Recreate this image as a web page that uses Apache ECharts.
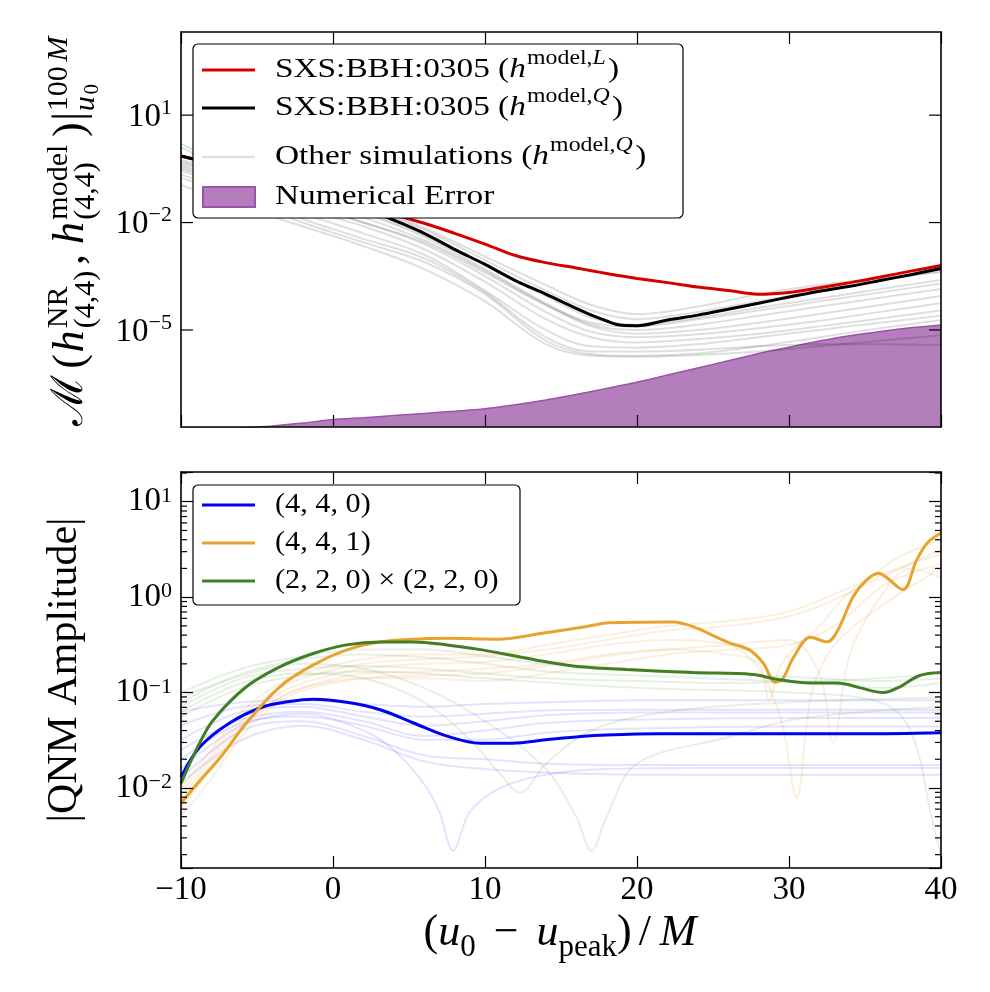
<!DOCTYPE html>
<html><head><meta charset="utf-8">
<script src="https://cdn.jsdelivr.net/npm/echarts@6/dist/echarts.min.js"></script>
<style>html,body{margin:0;padding:0;background:#fff}#c{width:990px;height:992px}</style>
</head><body><div id="c"></div>
<script>
const SERIF = '"Liberation Serif", "DejaVu Serif", serif';

// ---------- axis ticks / labels ----------
const xTickValues = [-10, 0, 10, 20, 30, 40];
const topMajorTicks = [10, 0.01, 1e-5];
const topTickExps = ['1', '\u22122', '\u22125'];
const bottomYLabelExps = [1, 0, -1, -2];
const bottomMinorTicks = [0.002, 0.003, 0.004, 0.005, 0.006, 0.007, 0.008, 0.009,
  0.02, 0.03, 0.04, 0.05, 0.06, 0.07, 0.08, 0.09,
  0.2, 0.3, 0.4, 0.5, 0.6, 0.7, 0.8, 0.9,
  2, 3, 4, 5, 6, 7, 8, 9, 20];

// ---------- top panel data ----------
const topX = [-10, -8, -6, -4, -2, 0, 2, 4, 6, 8, 10, 12, 14, 16, 17, 18, 19, 20, 22, 24, 26, 28, 30, 32, 34, 36, 38, 40];
const redL = [0.724, 0.437, 0.251, 0.141, 0.0794, 0.0468, 0.0269, 0.0166, 0.00955, 0.00501, 0.00251, 0.0012, 7.6e-4, 5.4e-4, 4.5e-4, 3.8e-4, 3.2e-4, 2.75e-4, 2.1e-4, 1.58e-4, 1.26e-4, 1.0e-4, 1.12e-4, 1.51e-4, 2.1e-4, 3.0e-4, 4.4e-4, 6.3e-4];
const blackQ = [0.72, 0.44, 0.25, 0.14, 0.079, 0.045, 0.024, 0.0117, 0.005, 1.78e-3, 6.8e-4, 2.4e-4, 1.0e-4, 4.0e-5, 2.6e-5, 1.78e-5, 1.35e-5, 1.32e-5, 1.9e-5, 2.6e-5, 3.8e-5, 5.6e-5, 8.3e-5, 1.2e-4, 1.66e-4, 2.4e-4, 3.5e-4, 5.2e-4];

const grayX = [-10, -6, -2, 2, 6, 10, 14, 17, 20, 24, 28, 32, 36, 40];
const gray1 = [1.26, 0.22, 0.071, 0.025, 6.3e-3, 8.9e-4, 1.26e-4, 3.5e-5, 2.0e-5, 3.2e-5, 6.3e-5, 1.26e-4, 2.4e-4, 4.5e-4];
const gray2 = [0.56, 0.2, 0.063, 0.02, 4.5e-3, 6.3e-4, 8.9e-5, 2.2e-5, 1.4e-5, 2.2e-5, 4.2e-5, 7.6e-5, 1.4e-4, 2.5e-4];
const gray3 = [0.5, 0.18, 0.056, 0.018, 4.0e-3, 5.0e-4, 5.6e-5, 1.4e-5, 1.0e-5, 1.4e-5, 2.5e-5, 4.5e-5, 7.9e-5, 1.4e-4];
const gray4 = [0.45, 0.16, 0.045, 0.014, 3.2e-3, 4.5e-4, 5.0e-5, 1.26e-5, 7.9e-6, 1.0e-5, 1.6e-5, 2.8e-5, 5.0e-5, 8.9e-5];
const gray5 = [0.4, 0.126, 0.032, 0.01, 2.5e-3, 3.2e-4, 3.2e-5, 8.9e-6, 6.3e-6, 7.6e-6, 1.12e-5, 1.8e-5, 3.2e-5, 5.6e-5];
const gray6 = [0.355, 0.1, 0.025, 7.9e-3, 1.8e-3, 2.2e-4, 2.0e-5, 6.3e-6, 4.5e-6, 5.6e-6, 7.9e-6, 1.26e-5, 2.1e-5, 3.5e-5];
const gray7 = [0.28, 0.079, 0.018, 5.0e-3, 1.26e-3, 1.26e-4, 1.0e-5, 3.5e-6, 3.2e-6, 4.0e-6, 6.3e-6, 1.0e-5, 1.6e-5, 2.5e-5];
const gray8 = [0.22, 0.056, 0.0126, 3.5e-3, 1.0e-3, 1.12e-4, 6.3e-6, 2.5e-6, 2.5e-6, 2.8e-6, 3.5e-6, 4.0e-6, 4.0e-6, 3.8e-6];
const gray9 = [0.18, 0.045, 0.01, 2.8e-3, 7.9e-4, 1.0e-4, 5.0e-6, 2.1e-6, 1.9e-6, 2.2e-6, 3.5e-6, 6.3e-6, 1.12e-5, 1.9e-5];
const gray10 = [0.316, 0.1, 0.032, 0.01, 2.8e-3, 4.0e-4, 5.0e-5, 1.6e-5, 1.26e-5, 2.0e-5, 3.5e-5, 6.3e-5, 1.12e-4, 2.0e-4];
const gray11 = [1.6, 0.25, 0.079, 0.028, 7.1e-3, 1.12e-3, 1.8e-4, 5.0e-5, 2.8e-5, 4.5e-5, 1.0e-4, 1.8e-4, 2.8e-4, 4.0e-4];
const gray12 = [0.112, 0.028, 7.9e-3, 2.2e-3, 5.0e-4, 6.3e-5, 4.0e-6, 1.9e-6, 1.8e-6, 2.0e-6, 2.5e-6, 3.5e-6, 5.0e-6, 7.1e-6];

const errX = [-10, -6, -4, -2, 0, 2, 4, 6, 8, 10, 12, 14, 16, 18, 20, 22, 24, 26, 28, 30, 32, 34, 36, 38, 40];
const errVals = [1.12e-8, 1.78e-8, 2.09e-8, 2.51e-8, 3.16e-8, 3.55e-8, 4.07e-8, 4.68e-8, 5.37e-8, 6.31e-8, 8.13e-8, 1.1e-7, 1.58e-7, 2.34e-7, 3.47e-7, 5.5e-7, 8.7e-7, 1.38e-6, 2.19e-6, 3.31e-6, 4.9e-6, 6.9e-6, 9.1e-6, 1.15e-5, 1.38e-5];

// ---------- bottom panel data ----------
const mode440 = [[-10, 0.013], [-8.75, 0.027], [-6.8, 0.048], [-4.6, 0.071], [-3, 0.08], [-1.3, 0.085], [0.9, 0.079], [3.1, 0.066], [5.3, 0.048], [7.5, 0.035], [9.7, 0.0295], [11.8, 0.0295], [14, 0.032], [16.3, 0.0347], [18, 0.036], [21.5, 0.037], [28, 0.037], [34.7, 0.037], [40, 0.038]];
const mode441 = [[-10, 0.0069], [-8.75, 0.012], [-7.4, 0.021], [-5.7, 0.048], [-3.5, 0.115], [-1.3, 0.195], [0.9, 0.28], [3.1, 0.34], [5.3, 0.363], [7.5, 0.37], [10.8, 0.363], [14.1, 0.427], [16.3, 0.48], [18.2, 0.54], [22.4, 0.55], [23.7, 0.49], [25.9, 0.34], [27.4, 0.28], [28.3, 0.204], [29.1, 0.129], [29.6, 0.141], [30.3, 0.234], [31.4, 0.38], [32.5, 0.34], [33.2, 0.447], [34.2, 1.0], [35.1, 1.51], [35.9, 1.78], [36.4, 1.62], [37.5, 1.2], [38.4, 2.45], [39.1, 3.7], [40, 4.7]];
const mode220sq = [[-10, 0.0112], [-8.9, 0.027], [-7.9, 0.051], [-5.7, 0.115], [-3.5, 0.186], [-1.3, 0.257], [0.9, 0.316], [3.1, 0.339], [5.3, 0.339], [7.5, 0.316], [9.7, 0.282], [11.8, 0.245], [14.1, 0.209], [16.3, 0.186], [19.3, 0.174], [23.7, 0.162], [27.6, 0.155], [29.2, 0.138], [31.4, 0.126], [33.2, 0.126], [34.7, 0.112], [36.2, 0.1], [37.3, 0.115], [38.6, 0.151], [40, 0.162]];

const faintBlueX = [-10, -6, -2, 2, 6, 10, 14, 20, 30, 40];
const faintBlue1 = [0.063, 0.079, 0.083, 0.076, 0.071, 0.076, 0.079, 0.083, 0.083, 0.083];
const faintBlue2 = [0.045, 0.071, 0.076, 0.063, 0.056, 0.06, 0.065, 0.066, 0.066, 0.066];
const faintBlue3 = [0.032, 0.063, 0.071, 0.056, 0.045, 0.05, 0.058, 0.062, 0.062, 0.062];
const faintBlue4 = [0.025, 0.052, 0.063, 0.05, 0.035, 0.04, 0.048, 0.052, 0.054, 0.054];
const faintBlue5 = [0.02, 0.048, 0.056, 0.045, 0.032, 0.032, 0.038, 0.042, 0.044, 0.044];
const faintBlue7 = [0.0126, 0.04, 0.05, 0.035, 0.022, 0.02, 0.018, 0.0174, 0.0174, 0.0174];
const faintBlue8 = [0.0112, 0.032, 0.045, 0.032, 0.019, 0.0158, 0.0145, 0.0138, 0.0138, 0.0138];
const faintBlueDip = [[-10, 0.016], [-6, 0.045], [-2, 0.06], [2, 0.04], [4, 0.025], [6, 0.011], [7, 0.0056], [7.9, 0.0022], [9, 0.0056], [11, 0.01], [14, 0.0138], [18, 0.0158], [24, 0.0162], [30, 0.0162], [40, 0.0162]];

const faintGreenX = [-10, -6, -2, 2, 6, 10, 14, 20, 26, 32, 36, 40];
const faintGreen1 = [0.1, 0.178, 0.24, 0.282, 0.282, 0.24, 0.2, 0.178, 0.158, 0.141, 0.132, 0.141];
const faintGreen2 = [0.079, 0.158, 0.224, 0.251, 0.234, 0.2, 0.166, 0.151, 0.138, 0.126, 0.112, 0.126];
const faintGreen3 = [0.071, 0.141, 0.178, 0.19, 0.178, 0.158, 0.141, 0.132, 0.126, 0.132, 0.141, 0.158];
const faintGreenDipA = [[-10, 0.063], [-6, 0.126], [-2, 0.158], [2, 0.141], [6, 0.079], [9, 0.032], [11, 0.014], [12.3, 0.0089], [14, 0.0178], [17, 0.04], [22, 0.063], [30, 0.079], [40, 0.089]];
const faintGreenDipB = [[-10, 0.089], [-6, 0.151], [-2, 0.2], [2, 0.178], [6, 0.112], [10, 0.05], [14, 0.0158], [16, 0.005], [17, 0.0022], [18, 0.005], [20, 0.018], [26, 0.034], [30, 0.051], [35, 0.063], [40, 0.071]];
const faintGreenDrop = [[-10, 0.056], [-6, 0.112], [-2, 0.151], [2, 0.166], [6, 0.158], [10, 0.141], [20, 0.112], [30, 0.1], [36, 0.079], [38, 0.04], [39.5, 0.004], [40, 0.002]];

const faintOrange1 = [[-10, 0.01], [-8, 0.025], [-6, 0.063], [-4, 0.112], [-2, 0.158], [2, 0.224], [6, 0.251], [10, 0.251], [14, 0.316], [18, 0.398], [22, 0.5], [26, 0.562], [30, 0.708], [34, 1.26], [38, 2.24], [40, 2.82]];
const faintOrange2 = [[-10, 0.0079], [-8, 0.02], [-6, 0.05], [-4, 0.089], [-2, 0.126], [2, 0.178], [6, 0.2], [10, 0.209], [14, 0.251], [18, 0.316], [22, 0.355], [26, 0.316], [28, 0.178], [29.5, 0.05], [30.5, 0.0079], [31.5, 0.1], [33, 0.316], [36, 0.794], [40, 2.0]];
const faintOrange3 = [[-10, 0.0063], [-8, 0.0158], [-6, 0.04], [-4, 0.079], [-2, 0.112], [2, 0.158], [6, 0.166], [10, 0.178], [14, 0.2], [18, 0.251], [22, 0.282], [26, 0.251], [28, 0.2], [28.7, 0.083], [29.5, 0.2], [32, 0.5], [34, 1.12], [36, 1.58], [38, 2.24], [40, 3.16]];
const faintOrange4 = [[-10, 0.005], [-8, 0.0126], [-6, 0.035], [-4, 0.071], [-2, 0.105], [2, 0.141], [6, 0.151], [10, 0.158], [14, 0.19], [18, 0.24], [22, 0.282], [26, 0.316], [30, 0.355], [32, 0.158], [32.9, 0.03], [34, 0.251], [36, 1.0], [38, 2.0], [40, 1.58]];
const faintOrange5 = [[-10, 0.0089], [-8, 0.022], [-6, 0.056], [-4, 0.1], [-2, 0.141], [2, 0.2], [6, 0.224], [10, 0.24], [14, 0.282], [18, 0.355], [22, 0.447], [26, 0.5], [30, 0.631], [34, 1.12], [37, 2.5], [40, 4.0]];
const faintOrange6 = [[-10, 0.0071], [-8, 0.0178], [-6, 0.045], [-4, 0.079], [-2, 0.112], [2, 0.141], [6, 0.141], [10, 0.132], [14, 0.158], [18, 0.2], [22, 0.251], [26, 0.282], [30, 0.316], [33, 0.5], [36, 1.26], [38, 1.78], [40, 2.24]];

// ---------- helpers ----------
function zip(xs, ys) { return xs.map((x, i) => [x, ys[i]]); }
const mctx = document.createElement('canvas').getContext('2d');
function fnt(p) { return (p.it ? 'italic ' : '') + p.size + 'px ' + (p.fam || SERIF); }
function textW(p) { mctx.font = fnt(p); return mctx.measureText(p.t).width; }

function logLabel(allowed) {
  return function (v) {
    const l = Math.log10(v), e = Math.round(l);
    if (Math.abs(l - e) > 1e-6 || allowed.indexOf(e) < 0) return '';
    return '{b|10}{s|' + (e < 0 ? '\u2212' + (-e) : String(e)) + '}';
  };
}
const TICKF = 33, TICKS = 22;
const yLabelRich = {
  b: { fontFamily: SERIF, fontSize: TICKF, color: '#000' },
  s: { fontFamily: SERIF, fontSize: TICKS, color: '#000', verticalAlign: 'top' }
};

function tickRenderer(len, labels) {
  return function (params, api) {
    const cs = params.coordSys;
    const y = api.coord([api.value(0), api.value(1)])[1];
    const x0 = cs.x, x1 = cs.x + cs.width;
    const ch = [
      { type: 'line', shape: { x1: x0, y1: y, x2: x0 + len, y2: y }, style: { stroke: '#000', lineWidth: 1.2 } },
      { type: 'line', shape: { x1: x1 - len, y1: y, x2: x1, y2: y }, style: { stroke: '#000', lineWidth: 1.2 } }
    ];
    if (labels) {
      const sup = labels[params.dataIndex];
      const sw = textW({ t: sup, size: TICKS });
      const right = x0 - 9;
      ch.push({ type: 'text', x: right - sw, y: y + 2, style: { text: '10', font: TICKF + 'px ' + SERIF, fill: '#000', align: 'right', verticalAlign: 'middle' } });
      ch.push({ type: 'text', x: right - sw, y: y - 7, style: { text: sup, font: TICKS + 'px ' + SERIF, fill: '#000', align: 'left', verticalAlign: 'middle' } });
    }
    return { type: 'group', children: ch };
  };
}

// math-like text layout (titles and legend texts)
function layoutMath(items) {
  const placed = []; let x = 0;
  items.forEach(it => {
    if (it.gap != null) { x += it.gap; return; }
    const rows = it.stack ? it.stack : [[it]];
    let w = 0;
    rows.forEach(row => { let rx = x; row.forEach(p => { placed.push({ p, x: rx }); rx += textW(p); }); w = Math.max(w, rx - x); });
    x += w;
  });
  return { placed, width: x };
}
function mathGraphic(items, cx, cy, rotation, targetLen, alignLeft, sx) {
  const L = layoutMath(items);
  const k = targetLen ? targetLen / L.width : 1;
  const half = alignLeft ? 0 : L.width * k / 2;
  return { type: 'group', x: cx, y: cy, rotation: rotation, scaleX: sx || 1, silent: true,
    children: L.placed.map(({ p, x }) => ({
      type: 'text', x: x * k - half, y: -(p.dy || 0) - 0.34 * p.size, z: 101,
      style: { text: p.t, font: fnt(p), fill: '#000', align: 'left', verticalAlign: 'middle' }
    })) };
}

// ---------- axis titles ----------
const S = 44, s = 30, UP = 17, DN = -10;
const topYTitle = mathGraphic([
  { t: '\u2133', size: S, fam: '"DejaVu Serif", serif' }, { gap: 1 },
  { t: '(', size: S }, { t: 'h', size: S, it: true },
  { stack: [[{ t: 'NR', size: s, dy: UP }], [{ t: '(4,4)', size: s, dy: DN }]] },
  { t: ',', size: S }, { gap: 8 },
  { t: 'h', size: S, it: true },
  { stack: [[{ t: 'model', size: s, dy: UP }], [{ t: '(4,4)', size: s, dy: DN }]] },
  { t: ')', size: S }, { t: '|', size: S },
  { stack: [[{ t: '100', size: s, dy: UP }, { t: 'M', size: s, it: true, dy: UP }],
            [{ t: 'u', size: s, it: true, dy: DN }, { t: '0', size: 21, dy: DN - 4 }]] }
], 86, 230, Math.PI / 2, 392);
const xTitle = mathGraphic([
  { t: '(', size: 44 }, { t: 'u', size: 44, it: true }, { t: '0', size: 31, dy: DN },
  { gap: 18 }, { t: '\u2212', size: 44 }, { gap: 18 },
  { t: 'u', size: 44, it: true }, { t: 'peak', size: 31, dy: DN }, { t: ')', size: 44 },
  { gap: 7 }, { t: '/', size: 44 }, { gap: 9 }, { t: 'M', size: 44, it: true }
], 560, 948, 0, null);
const bottomYTitle = mathGraphic([{ t: '|QNM Amplitude|', size: 42 }], 79, 670, Math.PI / 2, null);

// ---------- legends (drawn as graphic boxes) ----------
const NAME_L = 'SXS:BBH:0305 (h^model,L)';
const NAME_Q = 'SXS:BBH:0305 (h^model,Q)';
const NAME_O = 'Other simulations (h^model,Q)';
const NAME_E = 'Numerical Error';
const N440 = '(4, 4, 0)', N441 = '(4, 4, 1)', N220 = '(2, 2, 0) \u00d7 (2, 2, 0)';
const C_RED = '#d40000', C_BLUE = '#0000f0', C_ORANGE = '#e6a330', C_GREEN = '#427f24';
const C_ERR = '#b47ebd', C_ERR_EDGE = '#9c52aa';
const LF = 28, LS = 20, LUP = 14;
function hmodel(prefix, last) {
  return [{ t: prefix, size: LF }, { t: 'h', size: LF, it: true }, { gap: 1 },
    { t: 'model,', size: LS, dy: LUP }, { t: last, size: LS, it: true, dy: LUP }, { gap: 2 }, { t: ')', size: LF }];
}
function legendGraphic(box, items, sx) {
  const ch = [{ type: 'rect', shape: { x: box[0], y: box[1], width: box[2], height: box[3], r: 5 }, z: 100,
    style: { fill: '#fff', stroke: '#000', lineWidth: 1.2 } }];
  items.forEach(it => {
    if (it.rect) {
      ch.push({ type: 'rect', shape: { x: 203, y: it.y - 10, width: 52, height: 20 }, z: 101,
        style: { fill: it.color, stroke: it.edge, lineWidth: 2 } });
    } else {
      ch.push({ type: 'line', shape: { x1: 202, y1: it.y, x2: 255, y2: it.y }, z: 101,
        style: { stroke: it.color, lineWidth: it.w || 3 } });
    }
    ch.push(mathGraphic(it.text, 275, it.y + 0.33 * LF, 0, null, true, sx));
  });
  return { type: 'group', silent: true, children: ch };
}
const topLegend = legendGraphic([193, 44, 490, 174], [
  { y: 70, color: C_RED, text: hmodel('SXS:BBH:0305 (', 'L') },
  { y: 108, color: '#000', text: hmodel('SXS:BBH:0305 (', 'Q') },
  { y: 157, color: 'rgba(0,0,0,0.12)', w: 2.5, text: hmodel('Other simulations (', 'Q') },
  { y: 197, rect: true, color: C_ERR, edge: C_ERR_EDGE, text: [{ t: NAME_E, size: LF }] }
], 1.19);
const bottomLegend = legendGraphic([193, 485, 327, 120], [
  { y: 505, color: C_BLUE, text: [{ t: N440, size: LF }] },
  { y: 543, color: C_ORANGE, text: [{ t: N441, size: LF }] },
  { y: 581, color: C_GREEN, text: [{ t: N220, size: LF }] }
], 1.08);

// ---------- series ----------
const series = [];
function line(name, data, color, width, xi, yi, z, extra) {
  return Object.assign({ name, type: 'line', data, xAxisIndex: xi, yAxisIndex: yi, symbol: 'none', smooth: 0.35,
    color: color, lineStyle: { color, width }, itemStyle: { color }, z, silent: true, animation: false }, extra || {});
}
series.push(line(NAME_E, zip(errX, errVals), C_ERR_EDGE, 1.5, 0, 0, 1,
  { smooth: 0.2, areaStyle: { color: C_ERR, opacity: 1, origin: 'start' }, itemStyle: { color: C_ERR } }));
[gray1, gray2, gray3, gray4, gray5, gray6, gray7, gray8, gray9, gray10, gray11, gray12].forEach(g =>
  series.push(line(NAME_O, zip(grayX, g), 'rgba(0,0,0,0.13)', 2, 0, 0, 2)));
series.push(line(NAME_L, zip(topX, redL), C_RED, 3, 0, 0, 3));
series.push(line(NAME_Q, zip(topX, blackQ), '#000', 3, 0, 0, 4));
series.push({ name: 'top axis ticks', type: 'custom', xAxisIndex: 0, yAxisIndex: 0, clip: false, silent: true, z: 12,
  data: topMajorTicks.map(v => [-10, v]), renderItem: tickRenderer(12, topTickExps) });

[faintBlue1, faintBlue2, faintBlue3, faintBlue4, faintBlue5, faintBlue7, faintBlue8].forEach(b =>
  series.push(line('(4, 4, 0) other simulations', zip(faintBlueX, b), 'rgba(0,0,255,0.11)', 2, 1, 2, 2)));
series.push(line('(4, 4, 0) other simulations', faintBlueDip, 'rgba(0,0,255,0.11)', 2, 1, 2, 2));
[faintGreen1, faintGreen2, faintGreen3].forEach(g =>
  series.push(line('(2, 2, 0) x (2, 2, 0) other simulations', zip(faintGreenX, g), 'rgba(60,130,30,0.12)', 2, 1, 2, 2)));
[faintGreenDipA, faintGreenDipB, faintGreenDrop].forEach(g =>
  series.push(line('(2, 2, 0) x (2, 2, 0) other simulations', g, 'rgba(60,130,30,0.12)', 2, 1, 2, 2)));
[faintOrange1, faintOrange2, faintOrange3, faintOrange4, faintOrange5, faintOrange6].forEach(o =>
  series.push(line('(4, 4, 1) other simulations', o, 'rgba(230,150,40,0.15)', 2, 1, 2, 2)));
series.push(line(N440, mode440, C_BLUE, 3, 1, 2, 5));
series.push(line(N441, mode441, C_ORANGE, 3, 1, 2, 6));
series.push(line(N220, mode220sq, C_GREEN, 3, 1, 2, 7));
series.push({ name: 'bottom minor ticks', type: 'custom', xAxisIndex: 1, yAxisIndex: 2, clip: false, silent: true, z: 12,
  data: bottomMinorTicks.map(v => [-10, v]), renderItem: tickRenderer(6, null) });

// ---------- axes ----------
const AX = { color: '#000', width: 1.6 };
function xAxis(grid, pos, labels) {
  return { type: 'value', gridIndex: grid, position: pos, min: -10, max: 40, interval: 10, z: 10,
    axisLine: { show: true, onZero: false, lineStyle: AX },
    axisTick: { show: true, inside: true, length: 12, lineStyle: { color: '#000', width: 1.2 } },
    splitLine: { show: false },
    axisLabel: labels ? { show: true, margin: 6, color: '#000', fontFamily: SERIF, fontSize: 33,
      formatter: v => (xTickValues.indexOf(v) >= 0 ? (v < 0 ? '\u2212' + (-v) : String(v)) : '') } : { show: false } };
}
function yAxis(grid, pos, min, max, split, labels, ticks) {
  return { type: 'log', logBase: 10, gridIndex: grid, position: pos, min, max, splitNumber: split, z: 10,
    axisLine: { show: true, onZero: false, lineStyle: AX },
    axisTick: { show: ticks, inside: true, length: 12, lineStyle: { color: '#000', width: 1.2 } },
    minorTick: { show: false }, splitLine: { show: false },
    axisLabel: labels ? { show: true, margin: 9, color: '#000', formatter: logLabel(labels), rich: yLabelRich } : { show: false } };
}
const TOP_MIN = 1.95e-8, TOP_MAX = 2.1e3, BOT_MIN = 1.45e-3, BOT_MAX = 20.5;

const option = {
  backgroundColor: '#fff',
  animation: false,
  grid: [
    { left: 181, top: 32, width: 760, height: 395, containLabel: false },
    { left: 181, top: 472, width: 760, height: 396, containLabel: false }
  ],
  xAxis: [xAxis(0, 'bottom', false), xAxis(1, 'bottom', true), xAxis(0, 'top', false), xAxis(1, 'top', false)],
  yAxis: [
    yAxis(0, 'left', TOP_MIN, TOP_MAX, 5, null, false),
    yAxis(0, 'right', TOP_MIN, TOP_MAX, 5, null, false),
    yAxis(1, 'left', BOT_MIN, BOT_MAX, 5, bottomYLabelExps, true),
    yAxis(1, 'right', BOT_MIN, BOT_MAX, 5, null, true)
  ],
  graphic: [topYTitle, xTitle, bottomYTitle, topLegend, bottomLegend],
  series
};
const chart = echarts.init(document.getElementById('c'), null, { renderer: 'canvas' });
chart.setOption(option);
</script></body></html>
